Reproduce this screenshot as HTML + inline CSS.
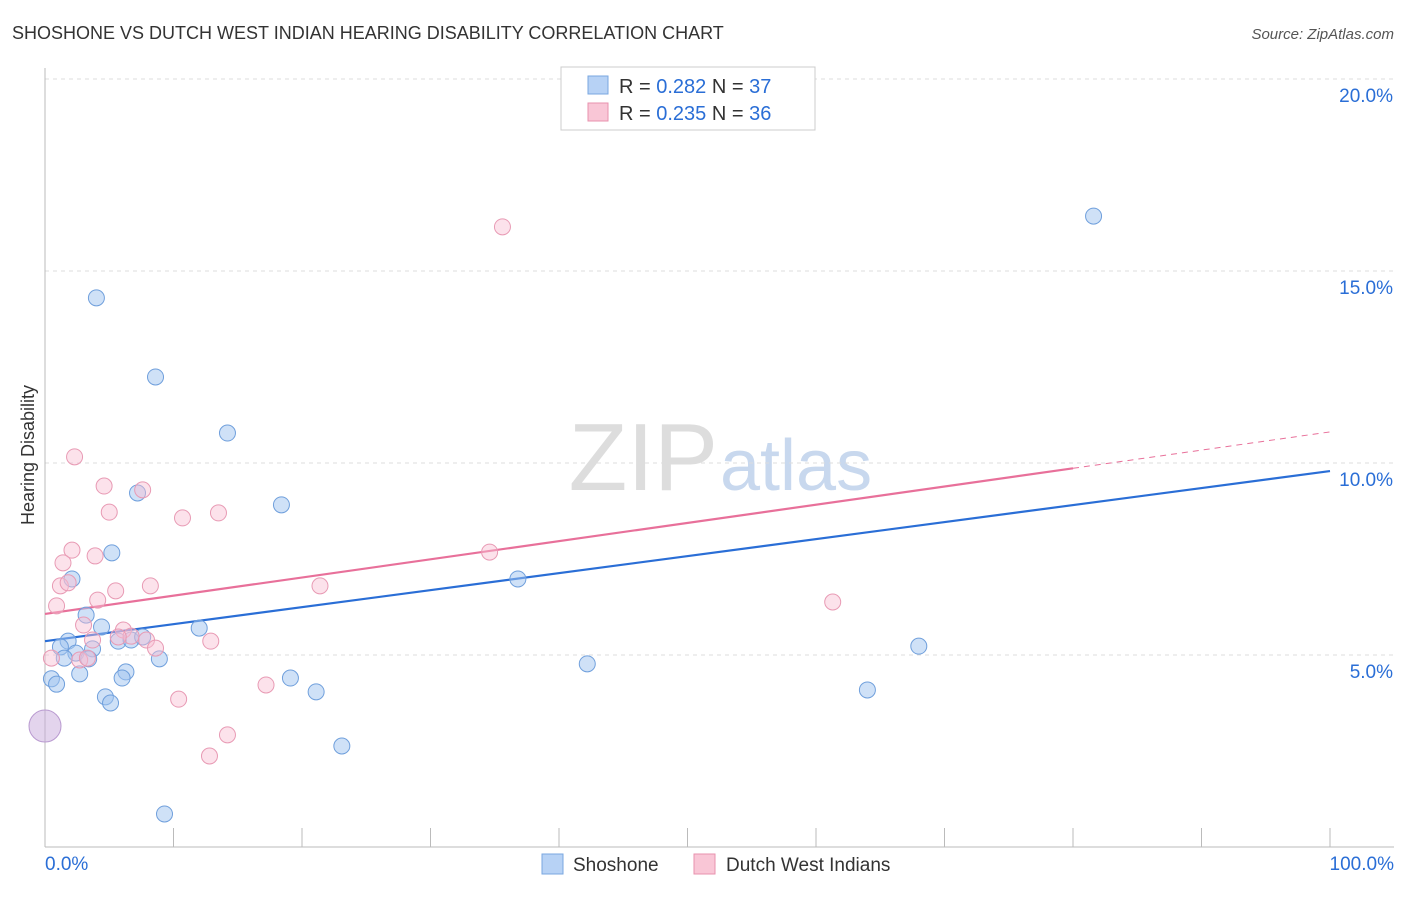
<!DOCTYPE html>
<html><head><meta charset="utf-8"><style>
body{margin:0;background:#fff;font-family:"Liberation Sans",sans-serif}
svg text{font-family:"Liberation Sans",sans-serif}
</style></head><body>
<svg id="chart" width="1406" height="892" xmlns="http://www.w3.org/2000/svg">
<text x="12" y="39" font-size="18" fill="#333">SHOSHONE VS DUTCH WEST INDIAN HEARING DISABILITY CORRELATION CHART</text>
<text x="1394" y="39" font-size="15" fill="#555" font-style="italic" text-anchor="end">Source: ZipAtlas.com</text>
<text x="718" y="490" font-size="96" fill="#ddd" font-family="Liberation Serif" text-anchor="end">ZIP</text>
<text x="720" y="490" font-size="72" fill="#c8d8ee">atlas</text>
<text x="34" y="455" font-size="18" fill="#333" transform="rotate(-90 34 455)" text-anchor="middle">Hearing Disability</text>
<g id="grid"></g><g id="axes"></g><g id="trend"></g><g id="pts"></g>
<g>
<rect x="561" y="67" width="254" height="63" fill="#fff" stroke="#ccc"/>
<rect x="588" y="76" width="20" height="18" fill="#b7d2f5" stroke="#7aa7e0"/>
<rect x="588" y="103" width="20" height="18" fill="#f9c6d6" stroke="#e892ae"/>
<text x="619" y="93" font-size="20" fill="#333">R = <tspan fill="#2a6ed6">0.282</tspan>   N = <tspan fill="#2a6ed6">37</tspan></text>
<text x="619" y="120" font-size="20" fill="#333">R = <tspan fill="#2a6ed6">0.235</tspan>   N = <tspan fill="#2a6ed6">36</tspan></text>
</g>
<g>
<rect x="542" y="854" width="21" height="20" fill="#b7d2f5" stroke="#7aa7e0"/>
<text x="573" y="871" font-size="19" fill="#333">Shoshone</text>
<rect x="694" y="854" width="21" height="20" fill="#f9c6d6" stroke="#e892ae"/>
<text x="726" y="871" font-size="19" fill="#333">Dutch West Indians</text>
</g>
</svg>
<script>
const yTicks=[5,10,15,20];
const yTickLabels=["5.0%","10.0%","15.0%","20.0%"];
const xLabels=["0.0%","100.0%"];
const blueX=[4.0,8.6,14.2,7.2,18.4,5.2,2.1,3.2,4.4,12.0,5.7,6.7,7.6,1.8,1.2,2.4,1.5,3.7,3.4,8.9,2.7,0.5,0.9,6.3,6.0,4.7,5.1,19.1,21.1,23.1,9.3,36.8,42.2,68.0,64.0,81.6];
const blueY=[14.3,12.24,10.78,9.22,8.91,7.66,6.98,6.04,5.73,5.70,5.36,5.39,5.47,5.36,5.21,5.05,4.92,5.16,4.90,4.90,4.51,4.38,4.24,4.56,4.40,3.91,3.75,4.40,4.04,2.63,0.86,6.98,4.77,5.23,4.09,16.43];
const pinkX=[35.6,2.3,4.6,7.6,5.0,10.7,13.5,2.1,3.9,1.4,1.2,1.8,8.2,5.5,4.1,21.4,0.9,3.0,3.7,6.1,6.7,7.9,8.6,5.7,12.9,2.7,0.5,3.3,10.4,17.2,14.2,12.8,34.6,61.3];
const pinkY=[16.15,10.16,9.40,9.30,8.72,8.57,8.70,7.73,7.58,7.40,6.80,6.88,6.80,6.67,6.43,6.80,6.28,5.78,5.39,5.65,5.49,5.39,5.18,5.47,5.36,4.87,4.92,4.92,3.85,4.22,2.92,2.37,7.68,6.38];
const bigX=[0],bigY=[3.15];
const blueTrend=[5.36,9.79];
const pinkTrend=[6.07,10.81];
const pinkSolidEnd=80;
const NS="http://www.w3.org/2000/svg";
const xs=v=>45+v*12.85, ys=v=>847-v*38.4;
function mk(t,a,p){const e=document.createElementNS(NS,t);for(const k in a)e.setAttribute(k,a[k]);document.getElementById(p).appendChild(e);return e;}
yTicks.forEach((t,i)=>{
 const l=mk('line',{x1:45,x2:1394,y1:ys(t),y2:ys(t),stroke:'#ddd','stroke-dasharray':'4,4'},'grid');
 
 
 const tx=mk('text',{x:1393,y:ys(t)+23,'font-size':19,fill:'#2a6ed6','text-anchor':'end'},'axes');
 tx.textContent=yTickLabels[i];
 
 
});
const ax=mk('line',{x1:45,x2:45,y1:68,y2:847,stroke:'#bbb'},'axes');


const bx=mk('line',{x1:45,x2:1394,y1:847,y2:847,stroke:'#bbb'},'axes');


for(let i=0;i<=10;i++){const t=mk('line',{x1:xs(i*10),x2:xs(i*10),y1:828,y2:847,stroke:'#bbb'},'axes');
 
 }
[[0,'start',45],[100,'end',1394]].forEach((d,i)=>{const t=mk('text',{x:d[2],y:870,'font-size':19,fill:'#2a6ed6','text-anchor':d[1]},'axes');t.textContent=xLabels[i];
 
 });
let l1=mk('line',{x1:xs(0),y1:ys(blueTrend[0]),x2:xs(100),y2:ys(blueTrend[1]),stroke:'#2a6ed6','stroke-width':2.2},'trend');


const pAt=x=>pinkTrend[0]+(pinkTrend[1]-pinkTrend[0])*x/100;
let l2=mk('line',{x1:xs(0),y1:ys(pAt(0)),x2:xs(pinkSolidEnd),y2:ys(pAt(pinkSolidEnd)),stroke:'#e8709a','stroke-width':2.2},'trend');


let l3=mk('line',{x1:xs(pinkSolidEnd),y1:ys(pAt(pinkSolidEnd)),x2:xs(100),y2:ys(pAt(100)),stroke:'#e8709a','stroke-width':1,'stroke-dasharray':'6,5'},'trend');


blueX.forEach((x,i)=>{const c=mk('circle',{cx:xs(x),cy:ys(blueY[i]),r:8,fill:'rgba(160,195,240,0.5)',stroke:'#6f9fdc','stroke-width':1},'pts');
 
 });
pinkX.forEach((x,i)=>{const c=mk('circle',{cx:xs(x),cy:ys(pinkY[i]),r:8,fill:'rgba(248,190,210,0.45)',stroke:'#e89ab4','stroke-width':1},'pts');
 
 });
bigX.forEach((x,i)=>{const c=mk('circle',{cx:xs(x),cy:ys(bigY[i]),r:16,fill:'rgba(200,170,220,0.5)',stroke:'#b99ad0','stroke-width':1},'pts');
 
 });
</script>
</body></html>
